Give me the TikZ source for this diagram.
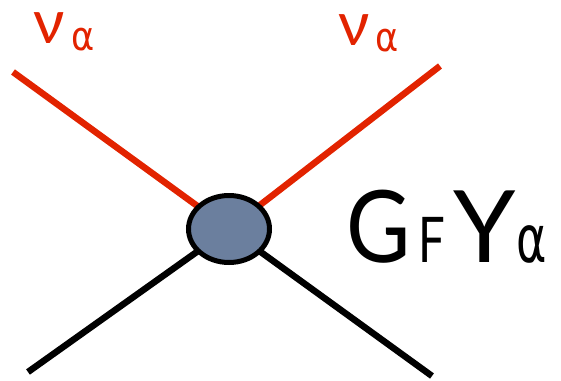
\documentclass[tikz,border=0pt]{standalone}
\usepackage{fontspec}
\setmainfont{Lato}
\newfontfamily\greekfont{DejaVu Sans}
\usetikzlibrary{shapes.geometric}
\definecolor{nured}{RGB}{226,35,0}
\definecolor{blobfill}{RGB}{107,127,158}
\begin{document}
\begin{tikzpicture}[x=1pt,y=-1pt,
  leg/.style={line width=6.5pt},
  redleg/.style={leg,draw=nured},
  blackleg/.style={leg,draw=black},
  lbl/.style={inner sep=0pt,outer sep=0pt,anchor=base west},
  nulbl/.style={lbl,text=nured,font=\fontsize{61}{61}\selectfont,text height=32pt,text depth=0pt},
  nusub/.style={lbl,text=nured,font=\greekfont\fontsize{40}{40}\selectfont,xscale=0.88,transform shape,text height=22pt,text depth=1pt},
  big/.style={lbl,font=\fontsize{100}{100}\selectfont},
  bigsub/.style={lbl,font=\fontsize{63}{63}\selectfont},
  alphasub/.style={lbl,font=\greekfont\fontsize{66}{66}\selectfont,xscale=0.7,transform shape}]
\useasboundingbox (0,0) rectangle (561,380);
\coordinate (c) at (229,229);
\coordinate (tl) at (13,72);
\coordinate (tr) at (440,66);
\coordinate (bl) at (28,372);
\coordinate (br) at (432,376);
\draw[redleg] (tl) -- (c);
\draw[redleg] (tr) -- (c);
\draw[blackleg] (bl) -- (c);
\draw[blackleg] (br) -- (c);
\node[ellipse, draw=black, line width=5pt, fill=blobfill, minimum width=81pt, minimum height=67pt, inner sep=0pt] (v) at (c) {};
\node[nulbl] (nu1) at (33,43) {ν};
\node[nusub] (a1) at (71,50) {α};
\node[nulbl] (nu2) at (338,45) {ν};
\node[nusub] (a2) at (375,51) {α};
\node[big,xscale=0.88,transform shape] (G) at (346,262) {G};
\node[bigsub,xscale=0.75,transform shape] (F) at (418,262) {F};
\node[big] (Y) at (453,262) {Y};
\node[alphasub] (a3) at (516,262) {α};
\end{tikzpicture}
\end{document}
